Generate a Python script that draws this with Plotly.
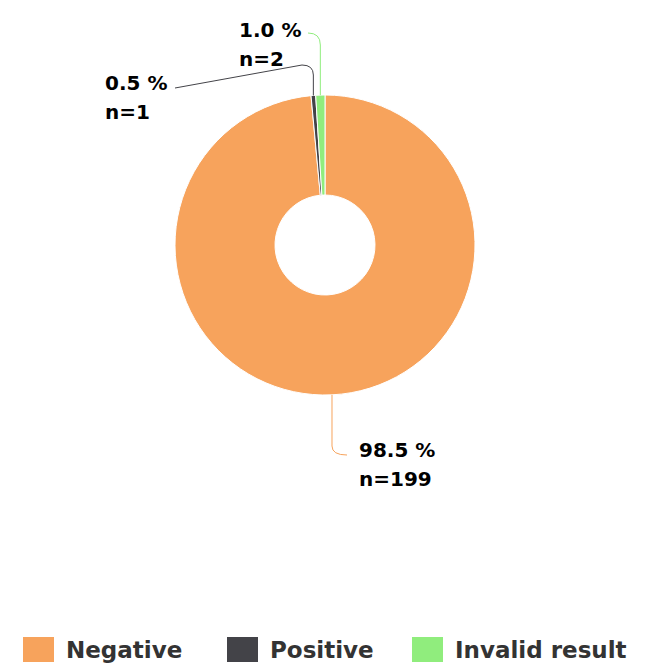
import math
import plotly.graph_objects as go

# ---- data ----
categories = ["Negative", "Positive", "Invalid result"]
counts = [199, 1, 2]
percents = [98.5, 0.5, 1.0]
colors = ["#f7a35c", "#434348", "#90ed7d"]

# ---- layout constants (page pixels) ----
W, H = 654, 669
OFF = 8                      # browser body margin
FW, FH = W - 2 * OFF, H - OFF
CX, CY, R = 325, 245, 150
HOLE = 50 / 150


def px(x):
    return (x - OFF) / FW


def py(y):
    return 1 - (y - OFF) / FH


fig = go.Figure(
    go.Pie(
        labels=categories,
        values=counts,
        marker=dict(colors=colors, line=dict(color="#ffffff", width=1)),
        hole=HOLE,
        sort=False,
        direction="clockwise",
        rotation=0,
        textinfo="none",
        showlegend=False,
        domain=dict(x=[px(CX - R), px(CX + R)], y=[py(CY + R), py(CY - R)]),
    )
)

# edge points of each slice (mid angle), computed from data
total = sum(counts)
edge = []
cum = 0
for c in counts:
    frac = (cum + c / 2) / total
    th = 2 * math.pi * frac
    edge.append((CX + R * math.sin(th), CY - R * math.cos(th)))
    cum += c

# label style: text left x, first line centre y, connector knee y, connector end, tail
label_style = [
    dict(x=357, y=449.5, knee=446, end=(347, 455), tail=None),
    dict(x=103, y=83, knee=75, end=(302, 65), tail=(175, 88)),
    dict(x=237, y=30, knee=45, end=(308, 33), tail=None),
]
LINE_GAP = 29

shapes = []
annotations = []
for i, st in enumerate(label_style):
    x0, y0 = edge[i]
    ex, ey = st["end"]
    d = (f"M{px(x0)},{py(y0)} L{px(x0)},{py(st['knee'])} "
         f"Q{px(x0)},{py(ey)} {px(ex)},{py(ey)}")
    if st["tail"] is not None:
        tx, ty = st["tail"]
        d += f" L{px(tx)},{py(ty)}"
    shapes.append(dict(type="path", xref="paper", yref="paper", path=d,
                       line=dict(color=colors[i], width=1), layer="above"))
    lines = [f"{percents[i]:.1f} %", f"n={counts[i]}"]
    for k, t in enumerate(lines):
        annotations.append(dict(
            text=f"<b>{t}</b>", x=px(st["x"]), y=py(st["y"] + k * LINE_GAP),
            xref="paper", yref="paper", xanchor="left", yanchor="middle",
            showarrow=False, align="left",
            font=dict(family="DejaVu Sans", size=20, color="#000000"),
        ))

# legend drawn manually
legend_left = [23, 227, 412]
LEG_Y = 649.5
SW_W, SW_H = 31, 25
for i, name in enumerate(categories):
    lx = legend_left[i]
    shapes.append(dict(type="rect", xref="paper", yref="paper",
                       x0=px(lx), x1=px(lx + SW_W),
                       y0=py(LEG_Y + SW_H / 2), y1=py(LEG_Y - SW_H / 2),
                       fillcolor=colors[i], line=dict(width=0)))
    annotations.append(dict(
        text=f"<b>{name}</b>", x=px(lx + SW_W + 10), y=py(LEG_Y),
        xref="paper", yref="paper", xanchor="left", yanchor="middle",
        showarrow=False,
        font=dict(family="DejaVu Sans", size=23, color="#333333"),
    ))

fig.update_layout(
    width=FW, height=FH,
    margin=dict(l=0, r=0, t=0, b=0),
    paper_bgcolor="#ffffff",
    plot_bgcolor="#ffffff",
    shapes=shapes,
    annotations=annotations,
)

fig.write_html("out.html")
